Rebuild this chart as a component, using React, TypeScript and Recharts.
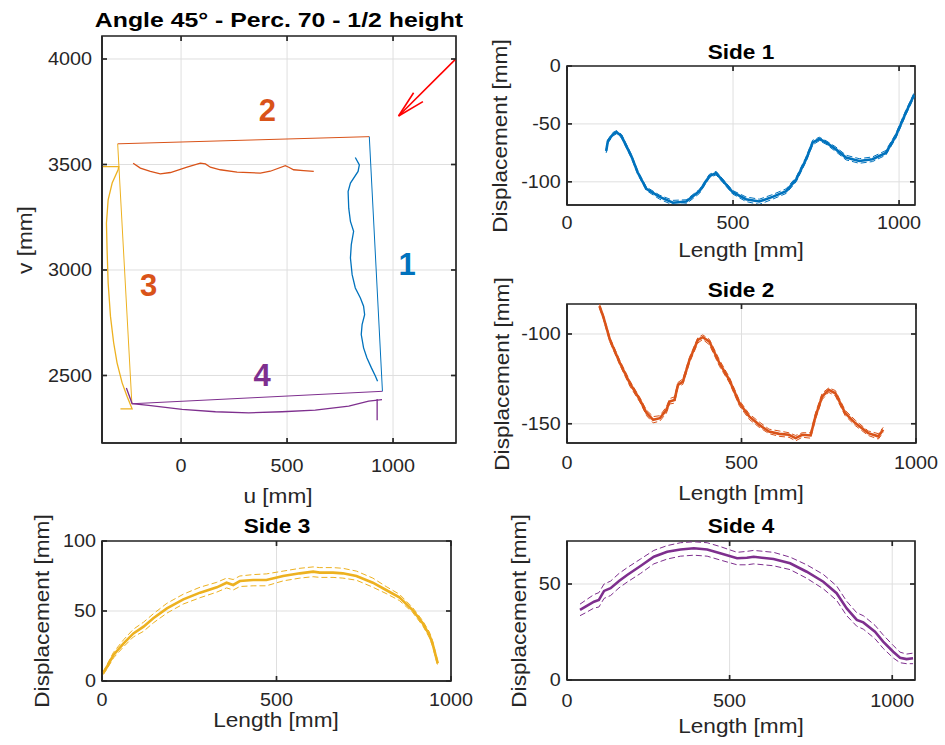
import React from 'react';
import { LineChart, Line, XAxis, YAxis, CartesianGrid, ReferenceDot, ReferenceArea, ReferenceLine } from 'recharts';

// ---------------- Main plot (u-v plane) ----------------
const mainUTicks = [0, 500, 1000];
const mainVTicks = [2500, 3000, 3500, 4000];

const outline1U = [888, 950];
const outline1V = [3632, 2425];
const outline2U = [-299, 888];
const outline2V = [3598, 3632];
const outline3U = [-299, -232];
const outline3V = [3598, 2366];
const outline4U = [-232, 950];
const outline4V = [2366, 2425];

const curve1U = [822, 841, 835, 799, 788, 791, 799, 814, 803, 799, 807, 822, 846, 861, 866, 854, 850, 861, 877, 898, 917, 927];
const curve1V = [3533, 3498, 3467, 3412, 3372, 3293, 3230, 3183, 3120, 3057, 2978, 2915, 2867, 2828, 2788, 2741, 2694, 2631, 2583, 2536, 2496, 2473];
const curve2U = [-226, -192, -145, -98, -50, 28, 91, 115, 138, 185, 264, 374, 421, 492, 508, 531, 578, 626];
const curve2V = [3506, 3483, 3467, 3456, 3462, 3487, 3506, 3503, 3487, 3475, 3464, 3459, 3468, 3494, 3487, 3475, 3471, 3467];
const curve3U = [-373, -294, -297, -325, -344, -352, -349, -344, -333, -318, -302, -278, -255, -231, -286];
const curve3V = [3490, 3490, 3475, 3412, 3333, 3222, 3096, 2938, 2780, 2655, 2560, 2465, 2402, 2342, 2342];
const curve4U = [-258, -231, -153, 5, 162, 319, 476, 633, 791, 885, 948];
const curve4V = [2441, 2367, 2358, 2339, 2328, 2323, 2328, 2336, 2355, 2378, 2386];
const curve4TickU = [925, 925];
const curve4TickV = [2389, 2288];
const arrowShaftU = [1294, 1026];
const arrowShaftV = [3998, 3730];
const arrowHeadU = [1097, 1026, 1141];
const arrowHeadV = [3840, 3730, 3798];

const sideLabels = ['1', '2', '3', '4'];
const sideLabelU = [1066, 407, -153, 382];
const sideLabelV = [3030, 3756, 2927, 2503];

// ---------------- Side 1 ----------------
const side1Len = [118, 123, 138, 149, 164, 194, 213, 239, 279, 319, 359, 399, 429, 449, 469, 499, 539, 579, 619, 660, 690, 720, 740, 760, 780, 810, 840, 880, 920, 960, 990, 1020, 1045];
const side1Mean = [-73.4, -65, -59, -57, -60.5, -78, -92, -106, -113, -118, -117, -108, -95, -92.5, -99, -109, -115, -117, -113, -108, -98, -80.5, -66, -63, -66, -72, -79, -82, -80.5, -75, -60.5, -40.5, -25];
const side1Upper = [-72, -63.5, -57.5, -55.8, -59, -76.5, -90.5, -104.5, -111.5, -116, -115.5, -106.5, -93.5, -91, -97.5, -107.5, -113, -115, -111, -106, -96, -78.5, -64, -61.5, -64.5, -70, -77, -80, -78.5, -73, -58.5, -38.5, -23.5];
const side1Lower = [-75, -66.5, -60.5, -58.5, -62, -79.5, -93.5, -107.5, -115, -120, -119, -110, -96.5, -94, -100.5, -110.5, -117, -119.5, -115, -110, -100, -82.5, -68, -64.5, -67.5, -74, -81, -84, -82.5, -77, -62.5, -42.5, -27];
const side1XTicks = [0, 500, 1000];
const side1YTicks = [-100, -50, 0];

// ---------------- Side 2 ----------------
const side2Len = [93, 104, 123, 152, 180, 209, 228, 247, 266, 285, 294, 308, 318, 332, 351, 375, 389, 408, 437, 465, 494, 522, 551, 579, 608, 636, 655, 674, 698, 712, 731, 750, 769, 797, 826, 863, 892, 906];
const side2Mean = [-84.4, -90.4, -103.3, -116.3, -127.4, -136.7, -144, -147.8, -146.9, -142.2, -137.6, -136.7, -128.3, -126.5, -114.4, -103.3, -101.8, -104.3, -116.3, -125.6, -138.5, -145.9, -150.6, -154.3, -155.6, -156.1, -158, -156.1, -156.5, -145.9, -134.8, -131.1, -133, -144, -149.6, -155.2, -157, -153.3];
const side2Upper = [-83.5, -89.5, -102, -115, -126, -135.5, -142.5, -146, -145.5, -140.5, -136, -135, -127, -125, -113, -102, -100.5, -103, -114.5, -124, -137, -144.5, -149, -153, -154, -155, -156.5, -155, -155, -144, -133, -130, -131.5, -142.5, -148, -154, -155.5, -152];
const side2Lower = [-85.5, -91.5, -104.5, -117.5, -129, -138, -145.5, -149.5, -148.5, -144, -139, -138.5, -129.5, -128, -116, -105, -103, -106, -118, -127, -140, -147.5, -152, -155.5, -157, -157.5, -159.5, -157.5, -158, -147.5, -136.5, -132.5, -134.5, -145.5, -151, -156.5, -158.5, -155];
const side2XTicks = [0, 500, 1000];
const side2YTicks = [-150, -100];

// ---------------- Side 3 ----------------
const side3Len = [3, 14, 33, 62, 90, 119, 147, 186, 233, 281, 329, 357, 376, 395, 433, 471, 519, 567, 605, 624, 662, 690, 729, 776, 814, 852, 890, 919, 938, 947, 962];
const side3Mean = [5.5, 10, 18.6, 26.9, 34, 38.8, 44.8, 51.9, 58.3, 63.1, 66.9, 70.2, 68.6, 71.4, 72.1, 72.1, 75, 76.9, 78.1, 77.4, 77.4, 76.9, 75, 70.2, 65, 59.8, 50.7, 41.2, 32.9, 26.9, 12.6];
const side3Upper = [6.5, 11.5, 20.5, 29.5, 37, 42, 48, 55.5, 62, 67, 70.5, 73.5, 72.5, 75, 76, 76.5, 78.5, 80.5, 81.5, 81, 81, 80.5, 78.5, 73.5, 67.5, 62, 52.5, 43, 35, 29, 14];
const side3Lower = [4.5, 8.5, 16.5, 24.5, 31.5, 35.5, 41.5, 48.5, 55, 59.5, 63.5, 66.5, 65, 67.5, 68, 68, 71.5, 73.5, 74.5, 74, 74, 73.5, 72, 67, 62.5, 57.5, 49, 39.5, 31, 25, 11];
const side3XTicks = [0, 500, 1000];
const side3YTicks = [0, 50, 100];

// ---------------- Side 4 ----------------
const side4Len = [40, 57, 83, 98, 114, 134, 160, 185, 226, 267, 308, 349, 390, 431, 471, 523, 553, 574, 635, 686, 737, 788, 829, 860, 891, 911, 947, 972, 1003, 1024, 1044, 1064];
const side4Mean = [36.5, 38.2, 40.8, 41.7, 46.4, 47.8, 51.6, 54.7, 59.4, 64.2, 66.8, 68, 68.6, 68, 66, 63.4, 63.7, 64.2, 63, 60.8, 56.4, 51.2, 45.2, 37.3, 31.3, 30, 25.2, 20, 14.7, 11.6, 10.9, 11.3];
const side4Upper = [39.5, 41.5, 44.5, 45.5, 50, 51.5, 55.5, 58.5, 63, 67.5, 70, 71.5, 72, 71.5, 69.5, 66.5, 67, 67.5, 66.5, 64, 60, 55, 49, 41, 35, 33.5, 28.5, 23.5, 18, 14.5, 13.5, 14];
const side4Lower = [33.5, 35, 37.5, 38, 42.5, 44, 48, 51, 55.5, 60.5, 63, 64.5, 65, 64.5, 62.5, 60, 60, 60.5, 59.5, 57.5, 53, 47.5, 41.5, 33.5, 28, 26.5, 21.5, 16.5, 11.5, 9, 8.5, 8.5];
const side4XTicks = [0, 500, 1000];
const side4YTicks = [0, 50];

// ---------------- Styling ----------------
const FONT = '"Liberation Sans", Arial, Helvetica, sans-serif';
const AX = '#262626';
const GRID = '#dfdfdf';
const BLUE = '#0072BD';
const ORANGE = '#D95319';
const YELLOW = '#EDB120';
const PURPLE = '#7E2F8E';
const RED = '#FF0000';
const SX = 1.13;
const TL = 5;
const AXW = 1.7;
const AXLINE = { stroke: AX, strokeWidth: AXW };
const PAD = { l: 90, r: 40, t: 14, b: 45 };

const toPts = (xs: number[], ys: number[]) => xs.map((x, i) => ({ x, y: ys[i] }));
const toRows = (xs: number[], m: number[], u: number[], l: number[]) =>
  xs.map((x, i) => ({ x, m: m[i], u: u[i], l: l[i] }));

function XTick(props: any) {
  const { x, y, payload } = props;
  return (
    <text x={x} y={y} dy="0.71em" textAnchor="middle" fill={AX} fontSize={17.5} fontFamily={FONT}
      transform={`translate(${x} ${y}) scale(${SX} 1) translate(${-x} ${-y})`}>
      {payload.value}
    </text>
  );
}

function YTick(props: any) {
  const { x, y, payload } = props;
  return (
    <text x={x} y={y} dy="0.355em" textAnchor="end" fill={AX} fontSize={17.5} fontFamily={FONT}
      transform={`translate(${x} ${y}) scale(${SX} 1) translate(${-x} ${-y})`}>
      {payload.value}
    </text>
  );
}

type Box = { x: number; y: number; w: number; h: number };

function Panel(props: {
  box: Box; xDomain: number[]; yDomain: number[]; xTicks: number[]; yTicks: number[];
  xTm: number; yTm: number; data?: any[]; children: React.ReactNode;
}) {
  const { box, xDomain, yDomain, xTicks, yTicks, xTm, yTm, data, children } = props;
  const W = box.w + PAD.l + PAD.r;
  const H = box.h + PAD.t + PAD.b;
  const [x0, x1] = xDomain;
  const [y0, y1] = yDomain;
  const dyTick = ((y1 - y0) * TL) / box.h;
  const dxTick = ((x1 - x0) * TL) / box.w;
  return (
    <div style={{ position: 'absolute', left: box.x - PAD.l, top: box.y - PAD.t, width: W, height: H }}>
      <LineChart width={W} height={H} data={data} margin={{ top: PAD.t, right: PAD.r, bottom: 0, left: 0 }}>
        <CartesianGrid stroke={GRID} strokeWidth={1} />
        <XAxis type="number" dataKey="x" domain={xDomain} ticks={xTicks} allowDataOverflow interval={0}
          height={PAD.b} tickSize={-TL} tickMargin={xTm} tick={(p: any) => <XTick {...p} />}
          axisLine={AXLINE} tickLine={AXLINE} />
        <YAxis type="number" domain={yDomain} ticks={yTicks} allowDataOverflow interval={0}
          width={PAD.l} tickSize={-TL} tickMargin={yTm} tick={(p: any) => <YTick {...p} />}
          axisLine={AXLINE} tickLine={AXLINE} />
        {children}
        {xTicks.map((t) => (
          <ReferenceLine key={'tt' + t} segment={[{ x: t, y: y1 }, { x: t, y: y1 - dyTick }]}
            stroke={AX} strokeWidth={AXW} ifOverflow="visible" />
        ))}
        {yTicks.map((t) => (
          <ReferenceLine key={'rt' + t} segment={[{ x: x1, y: t }, { x: x1 - dxTick, y: t }]}
            stroke={AX} strokeWidth={AXW} ifOverflow="visible" />
        ))}
        <ReferenceArea x1={x0} x2={x1} y1={y0} y2={y1} fill="none" fillOpacity={0}
          stroke={AX} strokeWidth={AXW} strokeOpacity={1} ifOverflow="visible" />
      </LineChart>
    </div>
  );
}

function Txt(props: { x: number; y: number; children: React.ReactNode; size?: number; bold?: boolean; rotate?: boolean; sx?: number; color?: string }) {
  const { x, y, children, size = 20, bold = false, rotate = false, sx = SX, color = AX } = props;
  return (
    <div style={{
      position: 'absolute', left: x, top: y,
      transform: `translate(-50%,-50%)${rotate ? ' rotate(-90deg)' : ''} scaleX(${sx})`,
      fontFamily: FONT, fontSize: size, fontWeight: bold ? 700 : 400, color,
      whiteSpace: 'nowrap', lineHeight: 1,
    }}>{children}</div>
  );
}

function seriesLines(color: string) {
  return [
    <Line key="u" dataKey="u" stroke={color} strokeWidth={1} strokeDasharray="6 3" dot={false} activeDot={false} isAnimationActive={false} />,
    <Line key="l" dataKey="l" stroke={color} strokeWidth={1} strokeDasharray="6 3" dot={false} activeDot={false} isAnimationActive={false} />,
    <Line key="m" dataKey="m" stroke={color} strokeWidth={2.6} dot={false} activeDot={false} isAnimationActive={false} />,
  ];
}

function pathLine(key: string, xs: number[], ys: number[], color: string, w: number) {
  return (
    <Line key={key} data={toPts(xs, ys)} dataKey="y" stroke={color} strokeWidth={w} dot={false}
      activeDot={false} isAnimationActive={false} />
  );
}

const labelColors = [BLUE, ORANGE, ORANGE, PURPLE];

export default function App() {
  return (
    <div style={{ position: 'absolute', left: 0, top: 0, width: 945, height: 745, background: '#fff', overflow: 'hidden' }}>
      <Panel box={{ x: 102, y: 36, w: 354, h: 407 }} xDomain={[-373, 1297]} yDomain={[2180, 4109]}
        xTicks={mainUTicks} yTicks={mainVTicks} xTm={22} yTm={15}>
        {[
          pathLine('o2', outline2U, outline2V, ORANGE, 1),
          pathLine('o1', outline1U, outline1V, BLUE, 1),
          pathLine('o4', outline4U, outline4V, PURPLE, 1),
          pathLine('o3', outline3U, outline3V, YELLOW, 1),
          pathLine('c1', curve1U, curve1V, BLUE, 1.3),
          pathLine('c2', curve2U, curve2V, ORANGE, 1.3),
          pathLine('c3', curve3U, curve3V, YELLOW, 1.3),
          pathLine('c4', curve4U, curve4V, PURPLE, 1.3),
          pathLine('c4t', curve4TickU, curve4TickV, PURPLE, 1.3),
          pathLine('as', arrowShaftU, arrowShaftV, RED, 1.6),
          pathLine('ah', arrowHeadU, arrowHeadV, RED, 1.6),
          ...sideLabels.map((s, i) => (
            <ReferenceDot key={'lab' + s} x={sideLabelU[i]} y={sideLabelV[i]} r={1} fill="none" stroke="none"
              label={{ value: s, position: 'center', fill: labelColors[i], fontSize: 31, fontWeight: 700, fontFamily: FONT }} />
          )),
        ]}
      </Panel>

      <Panel box={{ x: 567, y: 66, w: 348, h: 139 }} xDomain={[0, 1048]} yDomain={[-120, 0]}
        xTicks={side1XTicks} yTicks={side1YTicks} xTm={16.7} yTm={11.3}
        data={toRows(side1Len, side1Mean, side1Upper, side1Lower)}>
        {seriesLines(BLUE)}
      </Panel>

      <Panel box={{ x: 567, y: 304, w: 349, h: 139 }} xDomain={[0, 1000]} yDomain={[-160.7, -83.3]}
        xTicks={side2XTicks} yTicks={side2YTicks} xTm={18.7} yTm={11.3}
        data={toRows(side2Len, side2Mean, side2Upper, side2Lower)}>
        {seriesLines(ORANGE)}
      </Panel>

      <Panel box={{ x: 102, y: 541, w: 349, h: 140 }} xDomain={[0, 1000]} yDomain={[0, 100]}
        xTicks={side3XTicks} yTicks={side3YTicks} xTm={18} yTm={11}
        data={toRows(side3Len, side3Mean, side3Upper, side3Lower)}>
        {seriesLines(YELLOW)}
      </Panel>

      <Panel box={{ x: 567, y: 541, w: 348, h: 139 }} xDomain={[0, 1070]} yDomain={[0, 72.4]}
        xTicks={side4XTicks} yTicks={side4YTicks} xTm={20} yTm={11.3}
        data={toRows(side4Len, side4Mean, side4Upper, side4Lower)}>
        {seriesLines(PURPLE)}
      </Panel>

      <Txt x={279} y={20} bold sx={1.24} color="#000">Angle 45° - Perc. 70 - 1/2 height</Txt>
      <Txt x={278} y={496}>u [mm]</Txt>
      <Txt x={25} y={240} rotate>v [mm]</Txt>

      <Txt x={741} y={52} bold color="#000">Side 1</Txt>
      <Txt x={741} y={250}>Length [mm]</Txt>
      <Txt x={500} y={135.5} rotate>Displacement [mm]</Txt>

      <Txt x={741} y={290} bold color="#000">Side 2</Txt>
      <Txt x={741} y={492.5}>Length [mm]</Txt>
      <Txt x={501.5} y={373.5} rotate>Displacement [mm]</Txt>

      <Txt x={277} y={525.5} bold color="#000">Side 3</Txt>
      <Txt x={276} y={720}>Length [mm]</Txt>
      <Txt x={41.7} y={611} rotate>Displacement [mm]</Txt>

      <Txt x={741} y={525.5} bold color="#000">Side 4</Txt>
      <Txt x={741} y={725.5}>Length [mm]</Txt>
      <Txt x={519} y={611} rotate>Displacement [mm]</Txt>
    </div>
  );
}
